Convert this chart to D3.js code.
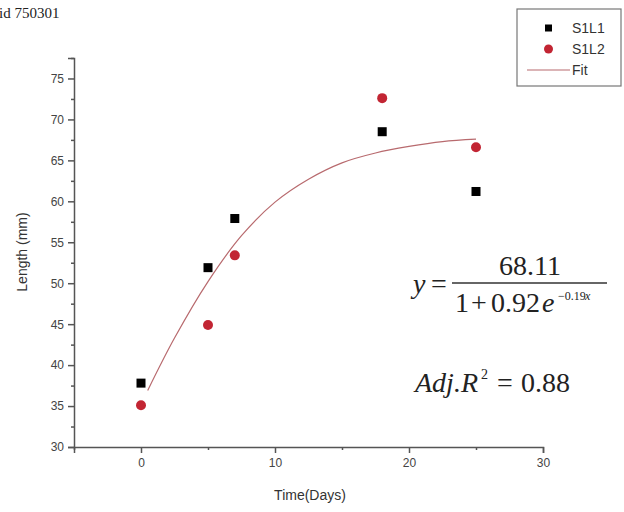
<!DOCTYPE html>
<html>
<head>
<meta charset="utf-8">
<script src="https://cdn.jsdelivr.net/npm/d3@7"></script>
<style>
  body { margin: 0; background: #fff; }
  svg { display: block; }
  .tick text { font-family: "Liberation Sans", Arial, sans-serif; fill: #444; }
</style>
</head>
<body>
<svg id="mainsvg" width="624" height="512"></svg>
<script>
// data
let days = [0, 5, 7, 18, 25];
let s1l1 = [37.8, 51.9, 57.9, 68.5, 61.2];
let s1l2 = [35.1, 44.9, 53.4, 72.6, 66.6];
let fitDays = [0.5, 2.5, 5, 7.5, 10, 12.5, 15, 17.5, 20, 22.5, 25];
let fitLen = [36.9, 43.3, 50.2, 55.8, 59.9, 62.7, 64.7, 65.9, 66.7, 67.3, 67.6];
let xTicks = [0, 10, 20, 30];
let xMinor = [-5, 5, 15, 25];
let yTicks = [30, 35, 40, 45, 50, 55, 60, 65, 70, 75];
let yMinor = [32.5, 37.5, 42.5, 47.5, 52.5, 57.5, 62.5, 67.5, 72.5, 77.5];
let legendNames = ["S1L1", "S1L2", "Fit"];

let svg = d3.select("#mainsvg");
let axisColor = "#555";
let redColor = "#c22533";
let fitColor = "#b86a6e";
let serif = "'Liberation Serif', 'DejaVu Serif', serif";

let x = d3.scaleLinear().domain([-5, 30]).range([74, 543]);
let y = d3.scaleLinear().domain([30, 77.5]).range([447, 58]);

// title (cut off at the left in the original)
svg.append("text")
    .attr("x", -1).attr("y", 18)
    .attr("font-family", serif)
    .attr("font-size", 15).attr("fill", "#222")
    .text("id 750301");

// x axis
let gx = svg.append("g").attr("transform", "translate(0," + y(30) + ")");
gx.call(d3.axisBottom(x).tickValues(xTicks).tickSize(6).tickPadding(5).tickFormat(d3.format("d")));
gx.append("g").call(d3.axisBottom(x).tickValues(xMinor).tickSize(3).tickFormat(""))
    .select(".domain").remove();
gx.selectAll("line, path").attr("stroke", axisColor).attr("stroke-width", 1.5);
gx.selectAll(".tick text").attr("font-size", 12);

// y axis
let gy = svg.append("g").attr("transform", "translate(" + x(-5) + ",0)");
gy.call(d3.axisLeft(y).tickValues(yTicks).tickSize(6).tickPadding(4).tickFormat(d3.format("d")));
gy.append("g").call(d3.axisLeft(y).tickValues(yMinor).tickSize(3).tickFormat(""))
    .select(".domain").remove();
gy.selectAll("line, path").attr("stroke", axisColor).attr("stroke-width", 1.5);
gy.selectAll(".tick text").attr("font-size", 12);

// axis titles
svg.append("text")
    .attr("x", 310).attr("y", 500)
    .attr("text-anchor", "middle")
    .attr("font-family", "Liberation Sans, Arial, sans-serif")
    .attr("font-size", 14).attr("fill", "#333")
    .text("Time(Days)");
svg.append("text")
    .attr("transform", "translate(27,252) rotate(-90)")
    .attr("text-anchor", "middle")
    .attr("font-family", "Liberation Sans, Arial, sans-serif")
    .attr("font-size", 14).attr("fill", "#333")
    .text("Length (mm)");

// fit curve
let fitData = fitDays.map((d, i) => [d, fitLen[i]]);
svg.append("path")
    .datum(fitData)
    .attr("fill", "none")
    .attr("stroke", fitColor)
    .attr("stroke-width", 1.2)
    .attr("d", d3.line().x(d => x(d[0])).y(d => y(d[1])).curve(d3.curveCatmullRom));

// S1L1 squares
svg.append("g").selectAll("rect")
    .data(days.map((d, i) => [d, s1l1[i]]))
    .enter().append("rect")
    .attr("x", d => x(d[0]) - 4.5)
    .attr("y", d => y(d[1]) - 4.5)
    .attr("width", 9).attr("height", 9)
    .attr("fill", "#000");

// S1L2 circles
svg.append("g").selectAll("circle")
    .data(days.map((d, i) => [d, s1l2[i]]))
    .enter().append("circle")
    .attr("cx", d => x(d[0]))
    .attr("cy", d => y(d[1]))
    .attr("r", 5)
    .attr("fill", redColor);

// legend
let lg = svg.append("g");
lg.append("rect")
    .attr("x", 517).attr("y", 9)
    .attr("width", 104).attr("height", 77)
    .attr("fill", "#fff").attr("stroke", "#777").attr("stroke-width", 1.2);
legendNames.forEach(function (name, i) {
    let ly = 28 + i * 21;
    if (i === 0) {
        lg.append("rect").attr("x", 545).attr("y", ly - 3.5).attr("width", 7).attr("height", 7).attr("fill", "#000");
    } else if (i === 1) {
        lg.append("circle").attr("cx", 548.5).attr("cy", ly).attr("r", 4.5).attr("fill", redColor);
    } else {
        lg.append("line").attr("x1", 527).attr("x2", 570).attr("y1", ly).attr("y2", ly)
            .attr("stroke", fitColor).attr("stroke-width", 1.2);
    }
    lg.append("text")
        .attr("x", 572).attr("y", ly + 5)
        .attr("font-family", "Liberation Sans, Arial, sans-serif")
        .attr("font-size", 14).attr("fill", "#333")
        .text(name);
});

// fit equation, placed piece by piece
let eq = svg.append("g")
    .attr("font-family", serif)
    .attr("font-size", 28)
    .attr("fill", "#222");
let piece = function (px, py, txt, italic, size) {
    let t = eq.append("text").attr("x", px).attr("y", py).text(txt);
    if (italic) t.attr("font-style", "italic");
    if (size) t.attr("font-size", size);
    return t;
};
piece(413, 293, "y", true);
piece(431, 293, "=");
eq.append("line").attr("x1", 452).attr("x2", 607).attr("y1", 283).attr("y2", 283)
    .attr("stroke", "#333").attr("stroke-width", 1.4);
piece(530, 275, "68.11").attr("text-anchor", "middle");
piece(455, 312, "1");
piece(471, 312, "+");
piece(491, 312, "0.92");
piece(542, 312, "e", true);
piece(558, 300, "\u22120.19", false, 12);
piece(585, 300, "x", true, 12);
piece(415, 392, "Adj.R", true);
piece(481, 379, "2", false, 14);
piece(497, 392, "=");
piece(521, 392, "0.88");
</script>
</body>
</html>
